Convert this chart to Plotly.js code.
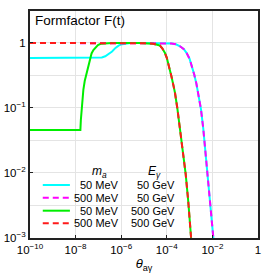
<!DOCTYPE html>
<html>
<head>
<meta charset="utf-8">
<script src="https://cdn.plot.ly/plotly-3.0.1.min.js"></script>
<style>html,body{margin:0;padding:0;background:#fff;}#chart{width:266px;height:274px;}</style>
</head>
<body>
<div id="chart"></div>
<script>
// log10(theta) and F values
var cyanLogTheta = [-10, -7.2, -7.0, -6.85, -6.7, -6.55, -6.4, -6.25, -6.1, -5.95, -5.8, -5.6, -5.3, -4.5, -4.0, -3.8, -3.6, -3.42, -3.25, -3.13, -3.0, -2.9, -2.8, -2.7, -2.6, -2.5, -2.4, -2.3, -2.2, -2.1, -2.0, -1.95, -1.9];
var cyanF        = [0.585, 0.585, 0.59, 0.60, 0.625, 0.67, 0.74, 0.84, 0.92, 0.96, 0.985, 0.997, 1, 1, 1, 0.985, 0.955, 0.89, 0.80, 0.70, 0.57, 0.45, 0.33, 0.235, 0.155, 0.095, 0.048, 0.021, 0.0095, 0.0042, 0.0017, 0.001, 0.0006];

var magentaLogTheta = [-10, -5.0, -4.0, -3.8, -3.6, -3.42, -3.25, -3.13, -3.0, -2.9, -2.8, -2.7, -2.6, -2.5, -2.4, -2.3, -2.2, -2.1, -2.0, -1.95, -1.9];
var magentaF        = [1, 1, 1, 0.985, 0.955, 0.89, 0.80, 0.70, 0.57, 0.45, 0.33, 0.235, 0.155, 0.095, 0.048, 0.021, 0.0095, 0.0042, 0.0017, 0.001, 0.0006];

var greenLogTheta = [-10, -7.79, -7.77, -7.74, -7.70, -7.66, -7.6, -7.51, -7.44, -7.37, -7.3, -7.22, -7.12, -7.02, -6.9, -6.7, -6.4, -5.2, -4.8, -4.6, -4.42, -4.3, -4.2, -4.08, -4.0, -3.93, -3.85, -3.79, -3.7, -3.64, -3.54, -3.45, -3.35, -3.25, -3.17, -3.06, -2.94, -2.9];
var greenF        = [0.046, 0.046, 0.065, 0.093, 0.14, 0.19, 0.26, 0.35, 0.47, 0.59, 0.69, 0.78, 0.87, 0.93, 0.97, 0.99, 1, 1, 0.99, 0.97, 0.94, 0.91, 0.83, 0.70, 0.59, 0.48, 0.37, 0.30, 0.215, 0.17, 0.10, 0.058, 0.031, 0.016, 0.0095, 0.0037, 0.001, 0.0007];

var redLogTheta = [-10, -5.2, -4.8, -4.6, -4.42, -4.3, -4.2, -4.08, -4.0, -3.93, -3.85, -3.79, -3.7, -3.64, -3.54, -3.45, -3.35, -3.25, -3.17, -3.06, -2.94, -2.9];
var redF        = [1, 1, 0.99, 0.97, 0.94, 0.91, 0.83, 0.70, 0.59, 0.48, 0.37, 0.30, 0.215, 0.17, 0.10, 0.058, 0.031, 0.016, 0.0095, 0.0037, 0.001, 0.0007];

var massLabels   = ["50 MeV", "500 MeV", "50 MeV", "500 MeV"];
var energyLabels = ["50 GeV", "50 GeV", "500 GeV", "500 GeV"];
var colors = ["#00ffff", "#ff00ff", "#00ee00", "#ff1a1a"];
var dashes = ["solid", "6px,4px", "solid", "6px,4px"];

var xTickVals = [1e-10, 1e-8, 1e-6, 1e-4, 1e-2, 1];
var xTickText = ["10<sup>\u221210</sup>", "10<sup>\u22128</sup>", "10<sup>\u22126</sup>", "10<sup>\u22124</sup>", "10<sup>\u22122</sup>", "1"];
var yTickVals = [1e-3, 1e-2, 1e-1, 1];
var yTickText = ["10<sup>\u22123</sup>", "10<sup>\u22122</sup>", "10<sup>\u22121</sup>", "1"];

function toTheta(arr){ return arr.map(function(v){ return Math.pow(10, v); }); }

var series = [[cyanLogTheta, cyanF], [magentaLogTheta, magentaF], [greenLogTheta, greenF], [redLogTheta, redF]];
var traces = series.map(function(s, i){
  return {x: toTheta(s[0]), y: s[1], type: 'scatter', mode: 'lines',
          line: {color: colors[i], width: 2, dash: dashes[i]}, showlegend: false, hoverinfo: 'skip'};
});

var font = "Liberation Sans, Arial, sans-serif";
var rowsY = [0.2335, 0.1775, 0.1203, 0.0648];
var shapes = [], annotations = [];
rowsY.forEach(function(yy, i){
  shapes.push({type: 'line', xref: 'paper', yref: 'paper', x0: 0.056, x1: 0.175, y0: yy, y1: yy,
               line: {color: colors[i], width: 2, dash: dashes[i]}});
  annotations.push({xref: 'paper', yref: 'paper', x: 0.398, y: yy, xanchor: 'right', yanchor: 'middle',
                    text: massLabels[i], showarrow: false, font: {family: font, size: 11, color: '#000'}});
  annotations.push({xref: 'paper', yref: 'paper', x: 0.643, y: yy, xanchor: 'right', yanchor: 'middle',
                    text: energyLabels[i], showarrow: false, font: {family: font, size: 11, color: '#000'}});
});
annotations.push({xref: 'paper', yref: 'paper', x: 0.307, y: 0.29, xanchor: 'center', yanchor: 'middle',
                  text: '<i>m<sub>a</sub></i>', showarrow: false, font: {family: font, size: 12, color: '#000'}});
annotations.push({xref: 'paper', yref: 'paper', x: 0.548, y: 0.29, xanchor: 'center', yanchor: 'middle',
                  text: '<i>E<sub>\u03b3</sub></i>', showarrow: false, font: {family: font, size: 12, color: '#000'}});

var layout = {
  width: 266, height: 274,
  margin: {l: 30, r: 8, t: 11, b: 36},
  paper_bgcolor: '#fff', plot_bgcolor: '#fff',
  font: {family: font, size: 11.5, color: '#000'},
  title: {text: 'Formfactor F(t)', xref: 'paper', yref: 'paper', x: 0.022, xanchor: 'left',
          y: 0.958, yanchor: 'middle', font: {family: font, size: 13.5, color: '#000'}},
  xaxis: {type: 'log', range: [-10, 0], tickmode: 'array', tickvals: xTickVals, ticktext: xTickText,
          showgrid: true, gridcolor: '#e4e4e4', gridwidth: 1, zeroline: false,
          showline: true, linecolor: '#222', linewidth: 2, mirror: true,
          ticks: 'inside', ticklen: 3, tickcolor: '#222',
          tickfont: {family: font, size: 11.5, color: '#000'},
          title: {text: '<i>\u03b8</i><sub>a\u03b3</sub>', font: {family: font, size: 13, color: '#000'}, standoff: 4}},
  yaxis: {type: 'log', range: [-3, 0.492], tickmode: 'array', tickvals: yTickVals, ticktext: yTickText,
          showgrid: true, gridcolor: '#e4e4e4', gridwidth: 1, zeroline: false,
          showline: true, linecolor: '#222', linewidth: 2, mirror: true,
          ticks: 'inside', ticklen: 3, tickcolor: '#222',
          minor: {tickmode: 'array', tickvals: [Math.pow(10, -2.5), Math.pow(10, -1.5), Math.pow(10, -0.5)], showgrid: true, gridcolor: '#e4e4e4', ticks: ''},
          tickfont: {family: font, size: 11.5, color: '#000'}},
  shapes: shapes,
  annotations: annotations,
  showlegend: false
};

Plotly.newPlot('chart', traces, layout, {staticPlot: true, displayModeBar: false});
</script>
</body>
</html>
